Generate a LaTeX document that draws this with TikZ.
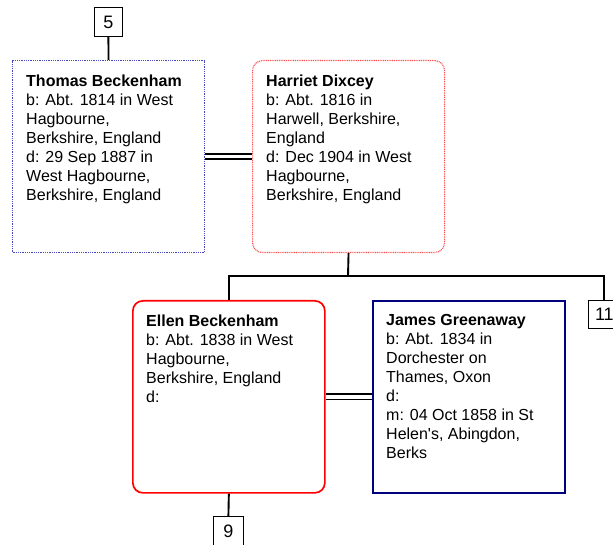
\documentclass[tikz,border=0pt]{standalone}
\usepackage{fontspec}
\setmainfont{Liberation Sans}
\definecolor{dotblue}{HTML}{4848C0}
\definecolor{dotred}{HTML}{FF5050}
\definecolor{navy}{HTML}{000080}
\begin{document}
\begin{tikzpicture}[x=1pt,y=-1pt,
  person/.style={minimum width=192pt,minimum height=192pt,anchor=north west,inner sep=0pt},
  persontext/.style={anchor=north west,inner sep=0pt,align=left,font=\fontsize{16pt}{19pt}\selectfont},
  numbox/.style={draw,line width=0.8pt,anchor=north west,inner sep=0pt,font=\fontsize{18pt}{20pt}\selectfont},
  link/.style={line width=1.9pt,black},
]
\useasboundingbox (0,0) rectangle (613,545);
% person boxes
\node[person,draw=dotblue,line width=1.1pt,dash pattern=on 1pt off 0.8pt] (thomas) at (12,60) {};
\node[person,draw=dotred,line width=1.1pt,dash pattern=on 1pt off 0.8pt,rounded corners=10pt] (harriet) at (252,60) {};
\node[person,draw=red,line width=1.7pt,rounded corners=10pt] (ellen) at (132,300) {};
\node[person,draw=navy,line width=1.7pt] (james) at (372,300) {};
% texts
\node[persontext] (thomastext) at (26,74.5) {\textbf{Thomas Beckenham}\\b: Abt. 1814 in West\\Hagbourne,\\Berkshire, England\\d: 29 Sep 1887 in\\West Hagbourne,\\Berkshire, England};
\node[persontext] (harriettext) at (266,74.5) {\textbf{Harriet Dixcey}\\b: Abt. 1816 in\\Harwell, Berkshire,\\England\\d: Dec 1904 in West\\Hagbourne,\\Berkshire, England};
\node[persontext] (ellentext) at (146,314.5) {\textbf{Ellen Beckenham}\\b: Abt. 1838 in West\\Hagbourne,\\Berkshire, England\\d:};
\node[persontext] (jamestext) at (386,314.5) {\textbf{James Greenaway}\\b: Abt. 1834 in\\Dorchester on\\Thames, Oxon\\d:\\m: 04 Oct 1858 in St\\Helen\textquotesingle s, Abingdon,\\Berks};
% number boxes
\node[numbox,minimum width=28pt,minimum height=29pt] (n5) at (94,7) {5};
\node[numbox,minimum width=30pt,minimum height=30pt] (n9) at (213,516) {9};
\node[numbox,minimum width=32pt,minimum height=28pt] (n11) at (588,300) {11};
% connectors
\draw[link] (n5.south) -- (thomas.north);
\draw[link] ([yshift=-2.6pt]thomas.east) -- ([yshift=-2.6pt]harriet.west);
\draw[link] ([yshift=2.6pt]thomas.east) -- ([yshift=2.6pt]harriet.west);
\draw[link] ([yshift=-2.6pt]ellen.east) -- ([yshift=-2.6pt]james.west);
\draw[link] ([yshift=2.6pt]ellen.east) -- ([yshift=2.6pt]james.west);
\coordinate (fam) at (348,276);
\draw[link] (harriet.south) -- (fam);
\draw[link] (ellen.north) |- (fam) -| (n11.north);
\draw[link] (ellen.south) -- (n9.north);
\end{tikzpicture}
\end{document}
